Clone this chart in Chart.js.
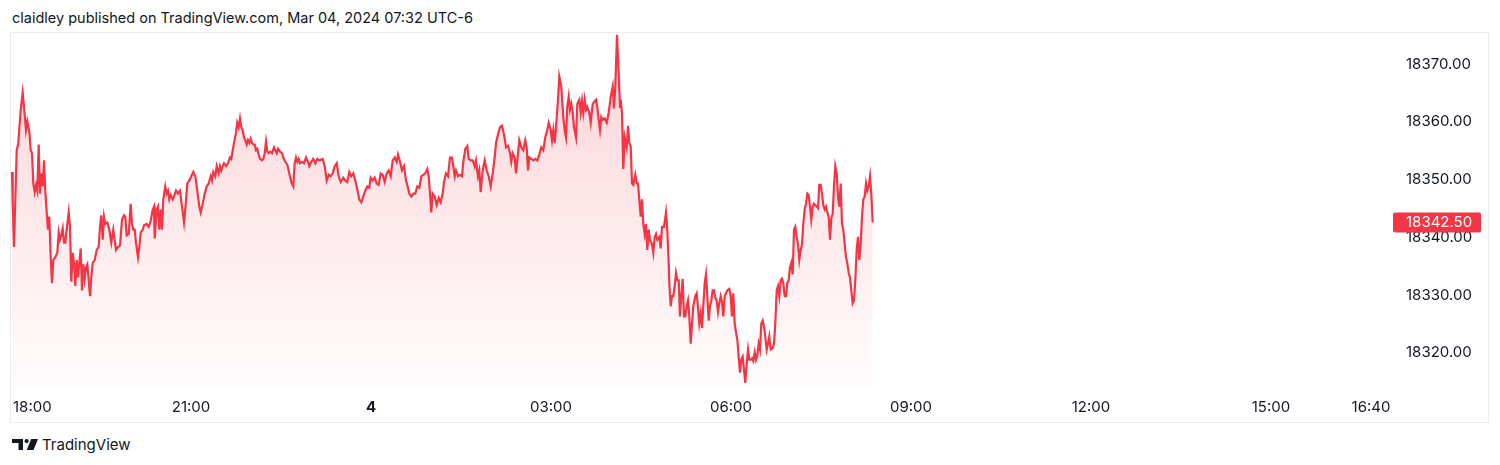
<!DOCTYPE html>
<html><head><meta charset="utf-8">
<script src="https://cdn.jsdelivr.net/npm/chart.js@4.4.1/dist/chart.umd.min.js"></script>
<style>
html,body{margin:0;padding:0;background:#fff;width:1500px;height:465px;overflow:hidden;font-family:Inter,"Noto Sans",sans-serif;color:#131722}
#hdr{position:absolute;left:12px;top:8px;font-size:14.5px;line-height:20px;white-space:nowrap}
#frame{position:absolute;left:10px;top:32px;width:1477px;height:389px;border:1px solid #e9ecf3;}
#frame canvas{display:block}
#ftr{position:absolute;left:12px;top:433px;height:22px;display:flex;align-items:center;font-size:15px;white-space:nowrap}
#ftr svg{margin-right:4px}
</style></head>
<body>
<div id="hdr">claidley published on TradingView.com, Mar 04, 2024 07:32 UTC-6</div>
<div id="frame"><canvas id="c" width="1477" height="389"></canvas></div>
<div id="ftr"><svg width="26" height="11" viewBox="0 0 26 11"><path d="M0 0H11V11H6.5V4H0Z" fill="#131722"/><circle cx="14.6" cy="2.1" r="2.1" fill="#131722"/><path d="M19.2 0H26L21.5 11H14.7Z" fill="#131722"/></svg><span>TradingView</span></div>
<script>
// minutes after 18:00 (Mar 3)
const minutes = [1,1.7,3,5.7,7.3,9.7,11.7,13,15,16.3,18.3,19.7,21,22.3,23.7,25,26.3,27.7,29,30.3,31.7,33,34.3,35.7,37,38.3,39.7,41,42.3,44.3,46.3,47.7,49,50.3,51.7,53,54.3,55.7,57.7,59,60.3,61.7,63,64.3,65.7,67,68.3,69.7,71,72.3,73.7,75,76.3,77.7,79,80.3,81.7,83.7,85.7,87.7,89,90.3,91.7,93,94.3,96.3,98.3,100.3,102.3,103.7,105,107,109,111,113,114.3,115.7,117.7,119.7,121,122.3,123.7,125,127,128.3,129.7,131.7,133,135.7,137.7,139.7,141.7,143,143.7,145.7,147,148.3,149.7,151,152.3,154.3,155.7,157,158.3,159.7,161.7,163,165,167,169,171,173,174.3,176.3,178.3,180.3,182.3,184.3,185.7,187,188.3,189.7,191.7,193.7,195.7,197.7,199.7,201,202.3,204.3,205.7,207.7,209,210.3,211.7,213,215,217,219,220.3,221.7,223,225,226.3,227.7,229,230.3,231.7,233,234.3,235.7,237,238.3,239.7,241,242.3,243.7,245,246.3,247.7,249,251,252.3,253.7,255,256.3,257.7,259,261,263,264.3,265.7,267,269,271,272.3,274.3,276.3,278.3,280.3,282.3,283.7,285,286.3,287.7,289,291,293,295,297,298.3,300.3,302.3,304.3,306.3,308.3,
311.7,313.7,315.7,317.7,319.7,321.7,323.7,325.7,327.7,329.7,332.3,334.3,336.3,338.3,340.3,342.3,344.3,346.3,348.3,350.3,352.3,354.3,356.3,358.3,359.7,361.7,363.7,365.7,367.7,369.7,371.7,373.7,375.7,377.7,379.7,381.7,383.7,385.7,387,389,391,393,395,396.3,398.3,400.3,402.3,404.3,406.3,408.3,410.3,412.3,414.3,416.3,417.7,419,420.3,421.7,423.7,425.7,427.7,429.7,431.7,433,435,437,439,441,442.3,443.7,445,447,449,451,452.3,454.3,456.3,457.7,459.7,461.7,463.7,465,467,468.3,469.7,471.7,473.7,475.7,477.7,479.7,481.7,483.7,485,487,489,491,493,495,497,499,500.3,501.7,503.7,505,507,508.3,510.3,512.3,514.3,515.7,517,518.3,520.3,522.3,524.3,526.3,528.3,530.3,532.3,534.3,536.3,537.7,539.7,541,542.3,543.7,545,547,548.3,550.3,552.3,553.7,555,556.3,557.7,559,560.3,561.7,563,565,566.3,568.3,569.7,571,572.3,573.7,575,576.3,578.3,579.7,581.7,583.7,585,586.3,587.7,589,590.3,591.7,593.7,595.7,597.7,599.7,601.7,603,604.3,606,607.7,609,609.7,611,612.3,613.7,615.7,617,618.3,619.7,621,622.3,624.3,625.7,627,628.3,629.7,631,632.3,633.7,635,636.3,
637.7,639,641,642.3,643.7,645,646.3,648.3,649.7,651,653,655,656.3,657.7,658.3,659.7,661,662.3,663.7,665,666.3,667.7,669,670.3,671.7,673,674.3,675.7,677,678.3,679.7,681,682.3,684.3,685.7,687,688.3,689.7,691,692.3,693.7,695,696.3,697.7,699,700.3,701.7,703,704.3,705.7,707,708.3,709.7,711,712.3,713.7,715,716.3,718.3,719.7,721,722.3,723.7,725,726.3,727.7,729,730.3,731.7,733,734.3,735.7,737,738.3,739.7,741,742.3,743.7,745,746.3,747.7,749,750.3,751.7,753,754.3,755.7,757,758.3,759.7,761.7,763,764.3,765.7,767,768.3,769.7,771,772.3,773.7,775,776.3,777.7,779,780.3,781.7,783,784.3,785.7,787,788.3,789.7,791,792.3,793.7,795,796.3,797.7,799,800.3,801.7,803,804.3,805.7,807,808.3,809.7,811,812.3,813.7,815,816.3,817.7,819,820.3,821.7,823,824.3,825.7,827,828.3,829.7,831,832.3,833.7,835,836.3,837.7,839,840.3,841.7,843,844.3,845.7,847,848.3,849.7,851,852.3,853.7,855,856.3,857.7,859,860.3,861.7];

const prices = [18351.25,18345.75,18338.25,18355,18356.25,18362,18365,18362.5,18358.5,18360,18358.25,18355,18354.5,18349.25,18347.75,18349,18348,18356,18347.5,18351,18348.75,18353.25,18348,18344.25,18341.25,18343.5,18336.5,18332,18336,18336.5,18337.25,18340.75,18339.5,18340.25,18341.5,18339,18339,18341.25,18344.25,18341.75,18332.25,18337.25,18335.5,18331.5,18336,18333,18335.5,18338,18330.75,18335.25,18332.75,18334.75,18335.25,18332.5,18329.75,18333,18335.5,18336,18337.75,18338.25,18341.75,18343.75,18339.5,18343.5,18342.25,18342.5,18341.25,18339,18341.25,18339.5,18337.75,18338.25,18338.5,18343,18343.75,18343.5,18340.25,18340.5,18345.75,18342.25,18341.25,18341.25,18339,18336.5,18338.25,18340.75,18341.25,18342,18342.25,18341.75,18342.75,18344.75,18345.25,18339.75,18344.75,18345.25,18341.25,18344.75,18341.25,18346.5,18348.75,18347.5,18348,18346.5,18347.25,18346.5,18347,18348,18347.5,18348,18345.25,18342.5,18344.75,18349.25,18349.75,18350.5,18351.25,18350.5,18348.75,18347,18345.25,18344.25,18345.75,18347.5,18348.75,18349.25,18350.5,18349.75,18351.25,18350.5,18352.25,18351,18352.25,18351.5,18352.25,18352.75,18352.25,18352.75,18353.75,18353.5,18355,18356.25,18358,18359.75,18359,18360.5,18359,18358.5,18357.25,18356.75,18356,18356.75,18356.25,18357,18356.25,18356,18356,18355,18355.25,18354.25,18353.5,18353.25,18353.5,18354.5,18356.5,18354.75,18354.5,18354.75,18354.5,18355.5,18355,18354.5,18355.25,18354.75,18354.5,18353.75,18353,18352.5,18351,18349.5,18348.75,18352.75,18353.75,18353,18353.5,18352.75,18353,18352.75,18353.75,18353,18352.25,18353,18353.5,18352.75,18353.5,18353.25,
18353.5,18352.25,18349.75,18350.75,18350.5,18351,18352.25,18352.75,18350.5,18349.5,18350.25,18349.75,18349.5,18351.25,18350.5,18351,18349.75,18348.25,18346.5,18346,18347,18348,18348.75,18348.5,18350.25,18349.75,18350.25,18349.25,18349,18351,18350.75,18349.5,18351,18351.5,18350.5,18353.25,18353.75,18353,18354.25,18353,18351.5,18352.25,18349.75,18349,18347.5,18347,18347.5,18347.5,18348.75,18348.5,18350.5,18350.75,18351,18351.75,18350.5,18347.5,18344.25,18347.5,18347,18345.5,18346.75,18346,18347.5,18349.5,18351,18350.5,18353.75,18353.75,18352.25,18350.5,18351.5,18350.5,18350.75,18350.5,18353,18355.25,18355.75,18353.5,18353.25,18353.25,18352.25,18353.25,18350.5,18351.5,18347.75,18351.5,18353.25,18351.5,18350.5,18348.75,18351,18353.75,18356.25,18357.75,18359,18359.25,18357.75,18355.5,18355.75,18354.5,18353,18354.5,18353.75,18351,18354.5,18356.75,18355.5,18355,18356.75,18355.5,18351.5,18353.75,18353.5,18353.25,18353.5,18353.25,18354.25,18355.5,18355,18357.25,18358.5,18359.75,18358.5,18356.75,18358.5,18356.25,18359,18363.75,18367.75,18366,18360.75,18358.5,18357.25,18362.5,18364.25,18362,18363,18361.5,18359,18357.25,18363,18363.75,18361.5,18363.5,18361.5,18363.75,18362,18362.5,18361.5,18359.75,18363,18363.5,18363.75,18362.5,18360.25,18358.5,18360.75,18360.25,18360.5,18359.75,18361.5,18364.25,18366,18362.25,18366,18375,18368.25,18362.5,18363.75,18361.5,18351.75,18357.25,18355.5,18359.25,18356.25,18355.75,18349.25,18349,18350.75,18349.25,18349.25,18346.5,18343.5,18346.5,18342.25,18340.5,18342.25,18337.75,
18341.25,18339.5,18338.75,18337.25,18340,18340.5,18339.5,18340,18338,18341.75,18341.75,18344.25,18341.25,18335.5,18332,18328,18329.75,18329.75,18331.5,18333.75,18332.5,18332.5,18326.25,18329.75,18332.75,18326.25,18326.25,18328,18329,18326.25,18321.5,18325,18328,18329.75,18330.25,18327.75,18325,18326.75,18324.25,18328,18332,18333.5,18329.75,18325.5,18328,18329,18330.75,18330.75,18329.5,18329,18327,18328.5,18329.75,18328.75,18326.25,18329.75,18330.25,18330.75,18331,18329.75,18326.25,18330.25,18325,18323.5,18322.25,18319.25,18316.5,18318.75,18319.25,18317,18314.75,18318,18320.5,18318.75,18318.75,18319,18318.5,18320,18318.75,18319.5,18321.5,18320.5,18325,18325.5,18324.5,18322.75,18320.5,18321.5,18322.75,18320.5,18320.75,18321.5,18325,18330.75,18331.5,18329.75,18332.5,18332.75,18332,18329.75,18329.75,18332,18332.5,18334.75,18335.5,18333.5,18341.25,18341.75,18340,18338.75,18336,18337.75,18338.75,18342.25,18344.75,18345.75,18347.5,18347.25,18345.25,18343,18345.25,18345.75,18345.5,18345.25,18345,18349,18349,18347.5,18345.5,18344.75,18345.25,18344.25,18343.5,18339.5,18343.25,18344,18348.75,18352.25,18351,18347,18345.25,18349.25,18342.25,18341.25,18338.75,18336.5,18335.5,18333.75,18333,18330.75,18328.5,18329,18332.5,18337.75,18340,18336,18338.75,18343.5,18346.5,18347,18349.25,18348,18348.75,18350.5,18347.5,18342.5];

const xTickMinutes = [0,180,360,540,720,900,1080,1260,1360];
const xTickLabels = ['18:00','21:00','4','03:00','06:00','09:00','12:00','15:00','16:40'];
const yTicks = [18320,18330,18340,18350,18360,18370];
const xRange = [0,1379];
const yRange = [18313.5,18375.3];
const lastPrice = prices[prices.length-1];

if (minutes.length !== prices.length) console.error('length mismatch', minutes.length, prices.length);

const RED = '#F23645';
const FONT = 'Inter, "Noto Sans", sans-serif';
const pts = minutes.map((m,i)=>({x:m,y:prices[i]}));

const overlay = {
  id:'overlay',
  afterDraw(chart){
    const ctx = chart.ctx, xs = chart.scales.x, ys = chart.scales.y, a = chart.chartArea;
    ctx.save();
    ctx.fillStyle = '#131722';
    ctx.textBaseline = 'middle';
    ctx.textAlign = 'left';
    // time axis labels
    xTickMinutes.forEach((m,i)=>{
      const lab = xTickLabels[i];
      ctx.font = (lab === '4' ? 'bold ' : '') + '15px ' + FONT;
      const w = ctx.measureText(lab).width;
      let left = xs.getPixelForValue(m) - w/2;
      if (left < a.left + 2) left = a.left + 2;
      ctx.fillText(lab, left, a.bottom + 17);
    });
    // price axis labels
    ctx.font = '15px ' + FONT;
    yTicks.forEach(v=>{
      ctx.fillText(v.toFixed(2), ys.left + 16, ys.getPixelForValue(v) + 0.5);
    });
    // last price label
    const y = ys.getPixelForValue(lastPrice);
    ctx.fillStyle = RED;
    const bx = ys.left + 3, bw = 88, bh = 20;
    ctx.beginPath();
    ctx.roundRect(bx, y - bh/2, bw, bh, 2);
    ctx.fill();
    ctx.fillStyle = '#ffffff';
    ctx.fillText(lastPrice.toFixed(2), ys.left + 16, y + 0.5);
    ctx.restore();
  }
};

new Chart(document.getElementById('c'), {
  type:'line',
  data:{datasets:[{
    data: pts,
    borderColor: RED,
    borderWidth: 2.2,
    pointRadius: 0,
    tension: 0,
    fill: 'start',
    backgroundColor: (c)=>{
      const a = c.chart.chartArea;
      if (!a) return 'rgba(242,54,69,0.15)';
      const g = c.chart.ctx.createLinearGradient(0, a.top, 0, a.bottom);
      g.addColorStop(0, 'rgba(242,54,69,0.22)');
      g.addColorStop(1, 'rgba(242,54,69,0.01)');
      return g;
    }
  }]},
  options:{
    responsive:false, animation:false, devicePixelRatio:1,
    layout:{padding:0},
    plugins:{legend:{display:false}, tooltip:{enabled:false}},
    scales:{
      x:{type:'linear', min:xRange[0], max:xRange[1], grid:{display:false, drawTicks:false}, border:{display:false},
         ticks:{display:false}, afterFit(s){ s.height = 32; }},
      y:{type:'linear', position:'right', min:yRange[0], max:yRange[1],
         grid:{display:false, drawTicks:false}, border:{display:false},
         afterBuildTicks(s){ s.ticks = yTicks.map(v=>({value:v})); },
         ticks:{display:false},
         afterFit(s){ s.width = 98; }}
    }
  },
  plugins:[overlay]
});
</script>
</body></html>
